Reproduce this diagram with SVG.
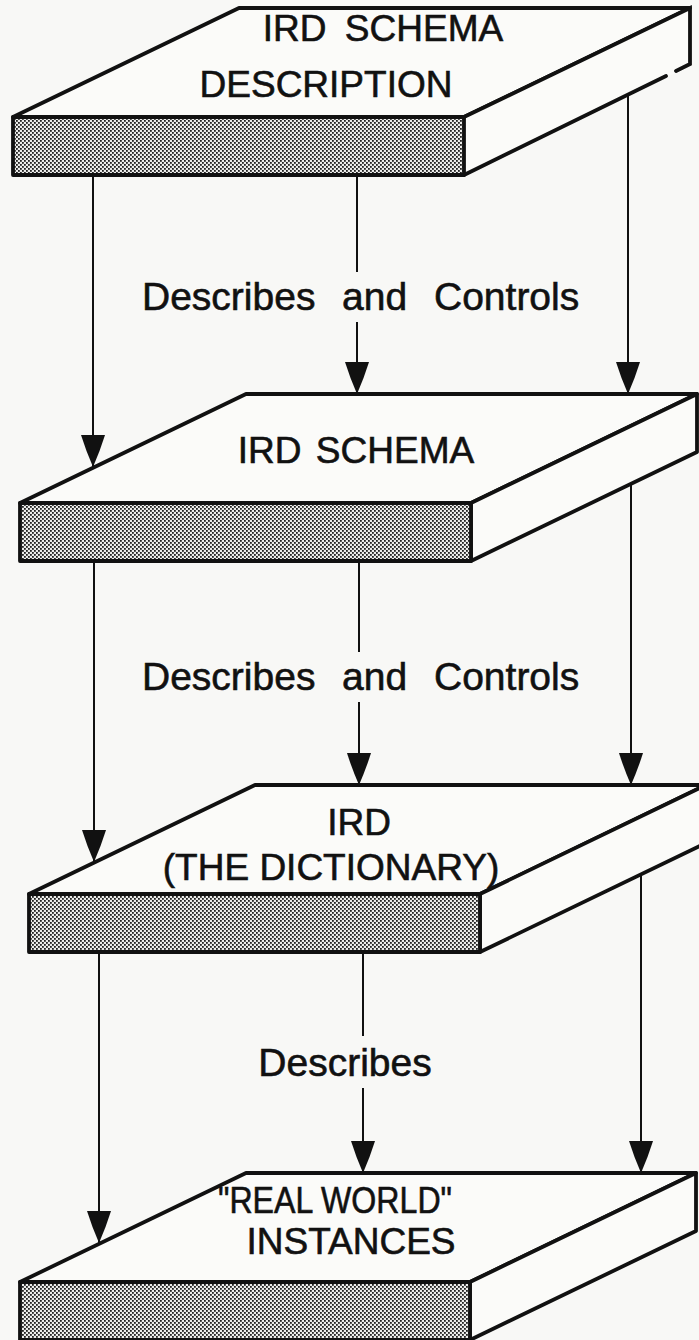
<svg xmlns="http://www.w3.org/2000/svg" width="699" height="1340" viewBox="0 0 699 1340">
  <style>
    .face { fill: #fbfbf9; stroke: #111; stroke-width: 3.8; stroke-linejoin: round; }
    .front { fill: url(#stipple); stroke: #111; stroke-width: 3.8; stroke-linejoin: round; }
    .edge { fill: none; stroke: #111; stroke-width: 3.8; stroke-linecap: round; }
    .conn { fill: none; stroke: #111; stroke-width: 2; }
    .arrow { marker-end: url(#ah); }
    .lbl { font-family: "Liberation Sans", Arial, Helvetica, sans-serif; font-size: 37px; fill: #111; stroke: #111; stroke-width: 0.6; }
    .big { font-size: 39px; }
    .mid { text-anchor: middle; }
  </style>
  <defs>
    <pattern id="stipple" patternUnits="userSpaceOnUse" width="4" height="4">
      <rect width="4" height="4" fill="#ececea"/>
      <rect x="0" y="0" width="1.8" height="1.8" fill="#222"/>
      <rect x="2" y="2" width="1.8" height="1.8" fill="#222"/>
    </pattern>
    <marker id="ah" viewBox="0 0 32 24" refX="32" refY="12" markerWidth="32" markerHeight="24" markerUnits="userSpaceOnUse" orient="auto">
      <path d="M0,0 Q16,5 32,12 Q16,19 0,24 Z" fill="#111"/>
    </marker>
  </defs>
  <rect width="699" height="1340" fill="#f8f8f6"/>

  <g id="connectors">
    <!-- level 1 to 2 -->
    <line class="conn arrow" x1="93" y1="177" x2="93" y2="467"/>
    <line class="conn" x1="357" y1="177" x2="357" y2="272"/>
    <line class="conn arrow" x1="357" y1="322" x2="357" y2="394"/>
    <line class="conn arrow" x1="628" y1="96" x2="628" y2="394"/>
    <!-- level 2 to 3 -->
    <line class="conn arrow" x1="94" y1="563" x2="94" y2="862"/>
    <line class="conn" x1="359" y1="563" x2="359" y2="652"/>
    <line class="conn arrow" x1="359" y1="702" x2="359" y2="785"/>
    <line class="conn arrow" x1="631" y1="484" x2="631" y2="785"/>
    <!-- level 3 to 4 -->
    <line class="conn arrow" x1="99" y1="954" x2="99" y2="1243"/>
    <line class="conn" x1="363" y1="954" x2="363" y2="1036"/>
    <line class="conn arrow" x1="363" y1="1088" x2="363" y2="1173"/>
    <line class="conn arrow" x1="641" y1="874" x2="641" y2="1173"/>
  </g>

  <g id="label-1">
    <text class="lbl big" y="310"><tspan x="142">Describes</tspan><tspan x="342">and</tspan><tspan x="434">Controls</tspan></text>
  </g>
  <g id="label-2">
    <text class="lbl big" y="690"><tspan x="142">Describes</tspan><tspan x="342">and</tspan><tspan x="434">Controls</tspan></text>
  </g>
  <g id="label-3">
    <text class="lbl big mid" x="345" y="1076">Describes</text>
  </g>

  <g id="slab-1">
    <polygon class="face" points="13,117 239,8 690,8 464,117"/>
    <polygon points="464,117 690,8 690,66 464,175" fill="#fbfbf9"/>
    <path class="edge" d="M464,117 L690,8 L690,64 L676,71 M666,76 L464,175"/>
    <rect class="front" x="13" y="117" width="451" height="58"/>
    <text class="lbl mid" x="383" y="41" word-spacing="8">IRD SCHEMA</text>
    <text class="lbl mid" x="326" y="97">DESCRIPTION</text>
  </g>

  <g id="slab-2">
    <polygon class="face" points="20,503 246,394 697,394 471,503"/>
    <polygon class="face" points="471,503 697,394 697,452 471,561"/>
    <rect class="front" x="20" y="503" width="451" height="58"/>
    <text class="lbl mid" x="356" y="463" word-spacing="4">IRD SCHEMA</text>
  </g>

  <g id="slab-3">
    <polygon class="face" points="29,894 255,785 706,785 480,894"/>
    <polygon class="face" points="480,894 706,785 706,843 480,952"/>
    <rect class="front" x="29" y="894" width="451" height="58"/>
    <text class="lbl mid" x="359" y="835">IRD</text>
    <text class="lbl mid" x="331" y="880" font-size="38">(THE DICTIONARY)</text>
  </g>

  <g id="slab-4">
    <polygon class="face" points="20,1282 246,1173 696,1173 470,1282"/>
    <polygon class="face" points="470,1282 696,1173 696,1231 470,1340"/>
    <rect class="front" x="20" y="1282" width="450" height="58"/>
    <text class="lbl mid" x="335" y="1213" textLength="234" lengthAdjust="spacingAndGlyphs">"REAL WORLD"</text>
    <text class="lbl mid" x="351" y="1254">INSTANCES</text>
  </g>
</svg>
